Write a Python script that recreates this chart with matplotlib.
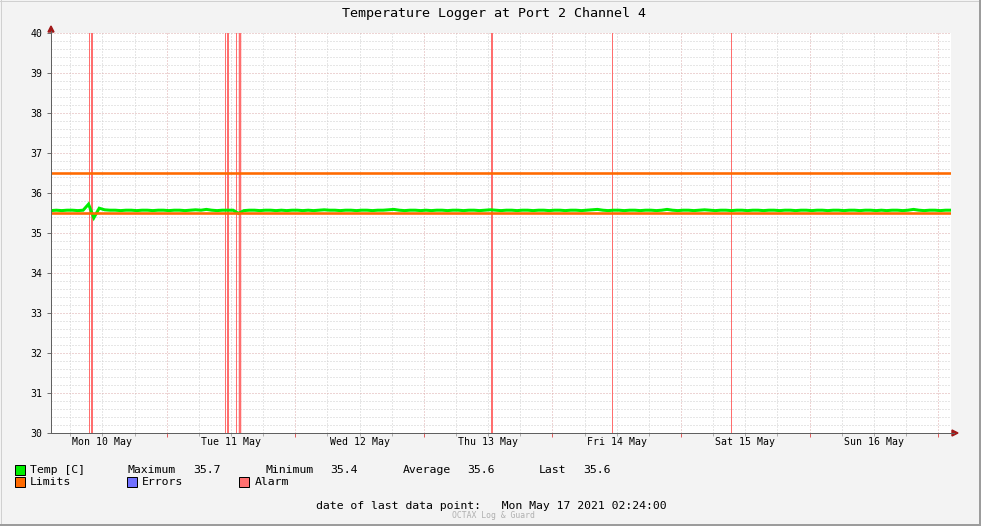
import numpy as np
import matplotlib
matplotlib.use("Agg")
import matplotlib.pyplot as plt
from matplotlib.patches import Rectangle, Polygon
from matplotlib.lines import Line2D

# ---------------- data ----------------
title = "Temperature Logger at Port 2 Channel 4"
start_hour = 2.4      # Mon 10 May 02:24 (hours since Mon 10 May 00:00)
end_hour = 170.4      # Mon 17 May 02:24
sample_step = 1.0     # hours between samples

temp_values = [
    35.56, 35.57, 35.56, 35.57, 35.57, 35.56, 35.57, 35.72, 35.38, 35.62, 35.58, 35.57,
    35.57, 35.56, 35.57, 35.57, 35.56, 35.57, 35.57, 35.56, 35.57, 35.57, 35.56, 35.57,
    35.57, 35.56, 35.57, 35.58, 35.57, 35.59, 35.57, 35.56, 35.57, 35.57, 35.57, 35.49,
    35.56, 35.57, 35.57, 35.56, 35.57, 35.57, 35.56, 35.57, 35.56, 35.57, 35.57, 35.56,
    35.57, 35.56, 35.57, 35.58, 35.57, 35.57, 35.56, 35.57, 35.57, 35.56, 35.57, 35.57,
    35.56, 35.57, 35.57, 35.58, 35.59, 35.57, 35.56, 35.57, 35.57, 35.56, 35.57, 35.56,
    35.57, 35.57, 35.56, 35.57, 35.57, 35.56, 35.57, 35.57, 35.56, 35.57, 35.58, 35.57,
    35.56, 35.57, 35.57, 35.56, 35.57, 35.57, 35.56, 35.57, 35.57, 35.56, 35.57, 35.57,
    35.56, 35.57, 35.57, 35.56, 35.57, 35.58, 35.59, 35.57, 35.56, 35.57, 35.57, 35.56,
    35.57, 35.57, 35.56, 35.57, 35.57, 35.56, 35.57, 35.59, 35.57, 35.56, 35.57, 35.57,
    35.56, 35.57, 35.58, 35.57, 35.56, 35.57, 35.57, 35.56, 35.57, 35.57, 35.56, 35.57,
    35.57, 35.56, 35.57, 35.57, 35.56, 35.57, 35.57, 35.56, 35.57, 35.57, 35.56, 35.57,
    35.57, 35.56, 35.57, 35.57, 35.56, 35.57, 35.57, 35.56, 35.57, 35.57, 35.56, 35.57,
    35.56, 35.57, 35.57, 35.56, 35.57, 35.59, 35.57, 35.56, 35.57, 35.57, 35.56, 35.57,
    35.57,
]

limit_low = 35.5
limit_high = 36.5

alarm_hours = [9.49, 9.96, 34.88, 35.53, 36.93, 37.59, 84.63, 107.12, 129.33]
alarm_px = [1, 2, 1, 2, 1, 2.5, 2, 1, 1]

day_labels = ["Mon 10 May", "Tue 11 May", "Wed 12 May", "Thu 13 May",
              "Fri 14 May", "Sat 15 May", "Sun 16 May"]
day_label_hours = [12, 36, 60, 84, 108, 132, 156]
midnight_hours = [24, 48, 72, 96, 120, 144, 168]
y_ticks = [30, 31, 32, 33, 34, 35, 36, 37, 38, 39, 40]

stat_max = "35.7"
stat_min = "35.4"
stat_avg = "35.6"
stat_last = "35.6"
last_point = "Mon May 17 2021 02:24:00"

# ---------------- figure ----------------
W, H = 981, 526
DPI = 100
MONO = "DejaVu Sans Mono"
plt.rcParams["font.family"] = [MONO, "DejaVu Sans"]

fig = plt.figure(figsize=(W / DPI, H / DPI), dpi=DPI, facecolor="#F3F3F3")

def fx(x):
    return x / W

def fy(y):
    return 1 - y / H

px = 72.0 / DPI  # points per pixel

L, R, T, B = 51, 951, 33, 433
ax = fig.add_axes([fx(L), fy(B), (R - L) / W, (B - T) / H])
ax.set_facecolor("white")
ax.set_xlim(start_hour, end_hour)
ax.set_ylim(30, 40)
for s in ax.spines.values():
    s.set_visible(False)

# grid
ax.set_axisbelow(True)
ax.set_xticks(midnight_hours)
ax.set_xticks(np.arange(6, end_hour, 6), minor=True)
ax.set_yticks(y_ticks)
ax.set_yticks(np.arange(30, 40.01, 0.2), minor=True)
dot = (0, (1, 2))
ax.grid(which="minor", color="#CFCFCF", linestyle=dot, linewidth=px)
ax.grid(which="major", color="#DDAAAA", linestyle=dot, linewidth=px)
ax.set_xticklabels([])
ax.tick_params(axis="x", which="major", length=3, width=px, color="#E06060", direction="out")
ax.tick_params(axis="x", which="minor", length=2, width=px, color="#B0B0B0", direction="out")
ax.tick_params(axis="y", which="major", length=3, width=px, color="#707070", direction="out",
               labelsize=7.1, pad=3)
ax.tick_params(axis="y", which="minor", length=0)
ax.set_yticklabels([str(v) for v in y_ticks], family=[MONO])

# alarms
for h, w in zip(alarm_hours, alarm_px):
    ax.axvline(h, color="#FF6E6E", linewidth=w * px, zorder=2)

# temperature
t = start_hour + sample_step * np.arange(len(temp_values))
ax.plot(t, temp_values, color="#00EE00", linewidth=3 * px, zorder=3,
        solid_joinstyle="miter")

# limits
ax.axhline(limit_high, color="#FF6A00", linewidth=2.6 * px, zorder=4)
ax.axhline(limit_low, color="#FF6A00", linewidth=2.6 * px, zorder=4)

# day labels
for h, lab in zip(day_labels and day_label_hours, day_labels):
    ax.text(h, -0.023, lab, transform=ax.get_xaxis_transform(), ha="center", va="center",
            fontsize=7.1, family=[MONO], color="black")

# axis lines + arrows
axis_col = "#606060"
fig.add_artist(Line2D([fx(L), fx(954)], [fy(B), fy(B)], color=axis_col, linewidth=px))
fig.add_artist(Line2D([fx(L), fx(L)], [fy(B), fy(31)], color=axis_col, linewidth=px))
arrow_col = "#A01818"
fig.add_artist(Polygon([(fx(952), fy(430)), (fx(958), fy(433)), (fx(952), fy(436))],
                       closed=True, color=arrow_col, transform=fig.transFigure))
fig.add_artist(Polygon([(fx(48), fy(32)), (fx(51), fy(26)), (fx(54), fy(32))],
                       closed=True, color=arrow_col, transform=fig.transFigure))

# title
fig.text(fx(494), fy(13), title, ha="center", va="center", fontsize=9.6, family=[MONO])

# legend
fs = 8.25

def square(x, y, color):
    fig.add_artist(Rectangle((fx(x), fy(y + 10)), 10 / W, 10 / H, transform=fig.transFigure,
                             facecolor=color, edgecolor="black", linewidth=px))

def txt(x, y, s, **kw):
    fig.text(fx(x), fy(y), s, ha="left", va="center", fontsize=fs, family=[MONO], **kw)

square(15, 465, "#00EE00")
txt(30, 470, "Temp [C]")
txt(128, 470, "Maximum")
txt(193, 470, stat_max)
txt(266, 470, "Minimum")
txt(330, 470, stat_min)
txt(403, 470, "Average")
txt(467, 470, stat_avg)
txt(539, 470, "Last")
txt(583, 470, stat_last)

square(15, 477, "#FF6A00")
txt(30, 482, "Limits")
square(127, 477, "#7070FF")
txt(142, 482, "Errors")
square(239, 477, "#FF7070")
txt(255, 482, "Alarm")

txt(316, 506, "date of last data point:   " + last_point)
fig.text(fx(493), fy(515), "OCTAX Log & Guard", ha="center", va="center", fontsize=5.9,
         family=[MONO], color="#B0B0B0")

# frame
fig.add_artist(Line2D([0, 1], [fy(0.5), fy(0.5)], color="#D0D0D0", linewidth=1 * px))
fig.add_artist(Line2D([fx(0.5), fx(0.5)], [0, 1], color="#D0D0D0", linewidth=1 * px))
fig.add_artist(Line2D([fx(979.5), fx(979.5)], [0, 1], color="#9C9C9C", linewidth=3 * px))
fig.add_artist(Line2D([0, 1], [fy(524.5), fy(524.5)], color="#9C9C9C", linewidth=3 * px))

fig.savefig("out.png", dpi=DPI, facecolor=fig.get_facecolor())
